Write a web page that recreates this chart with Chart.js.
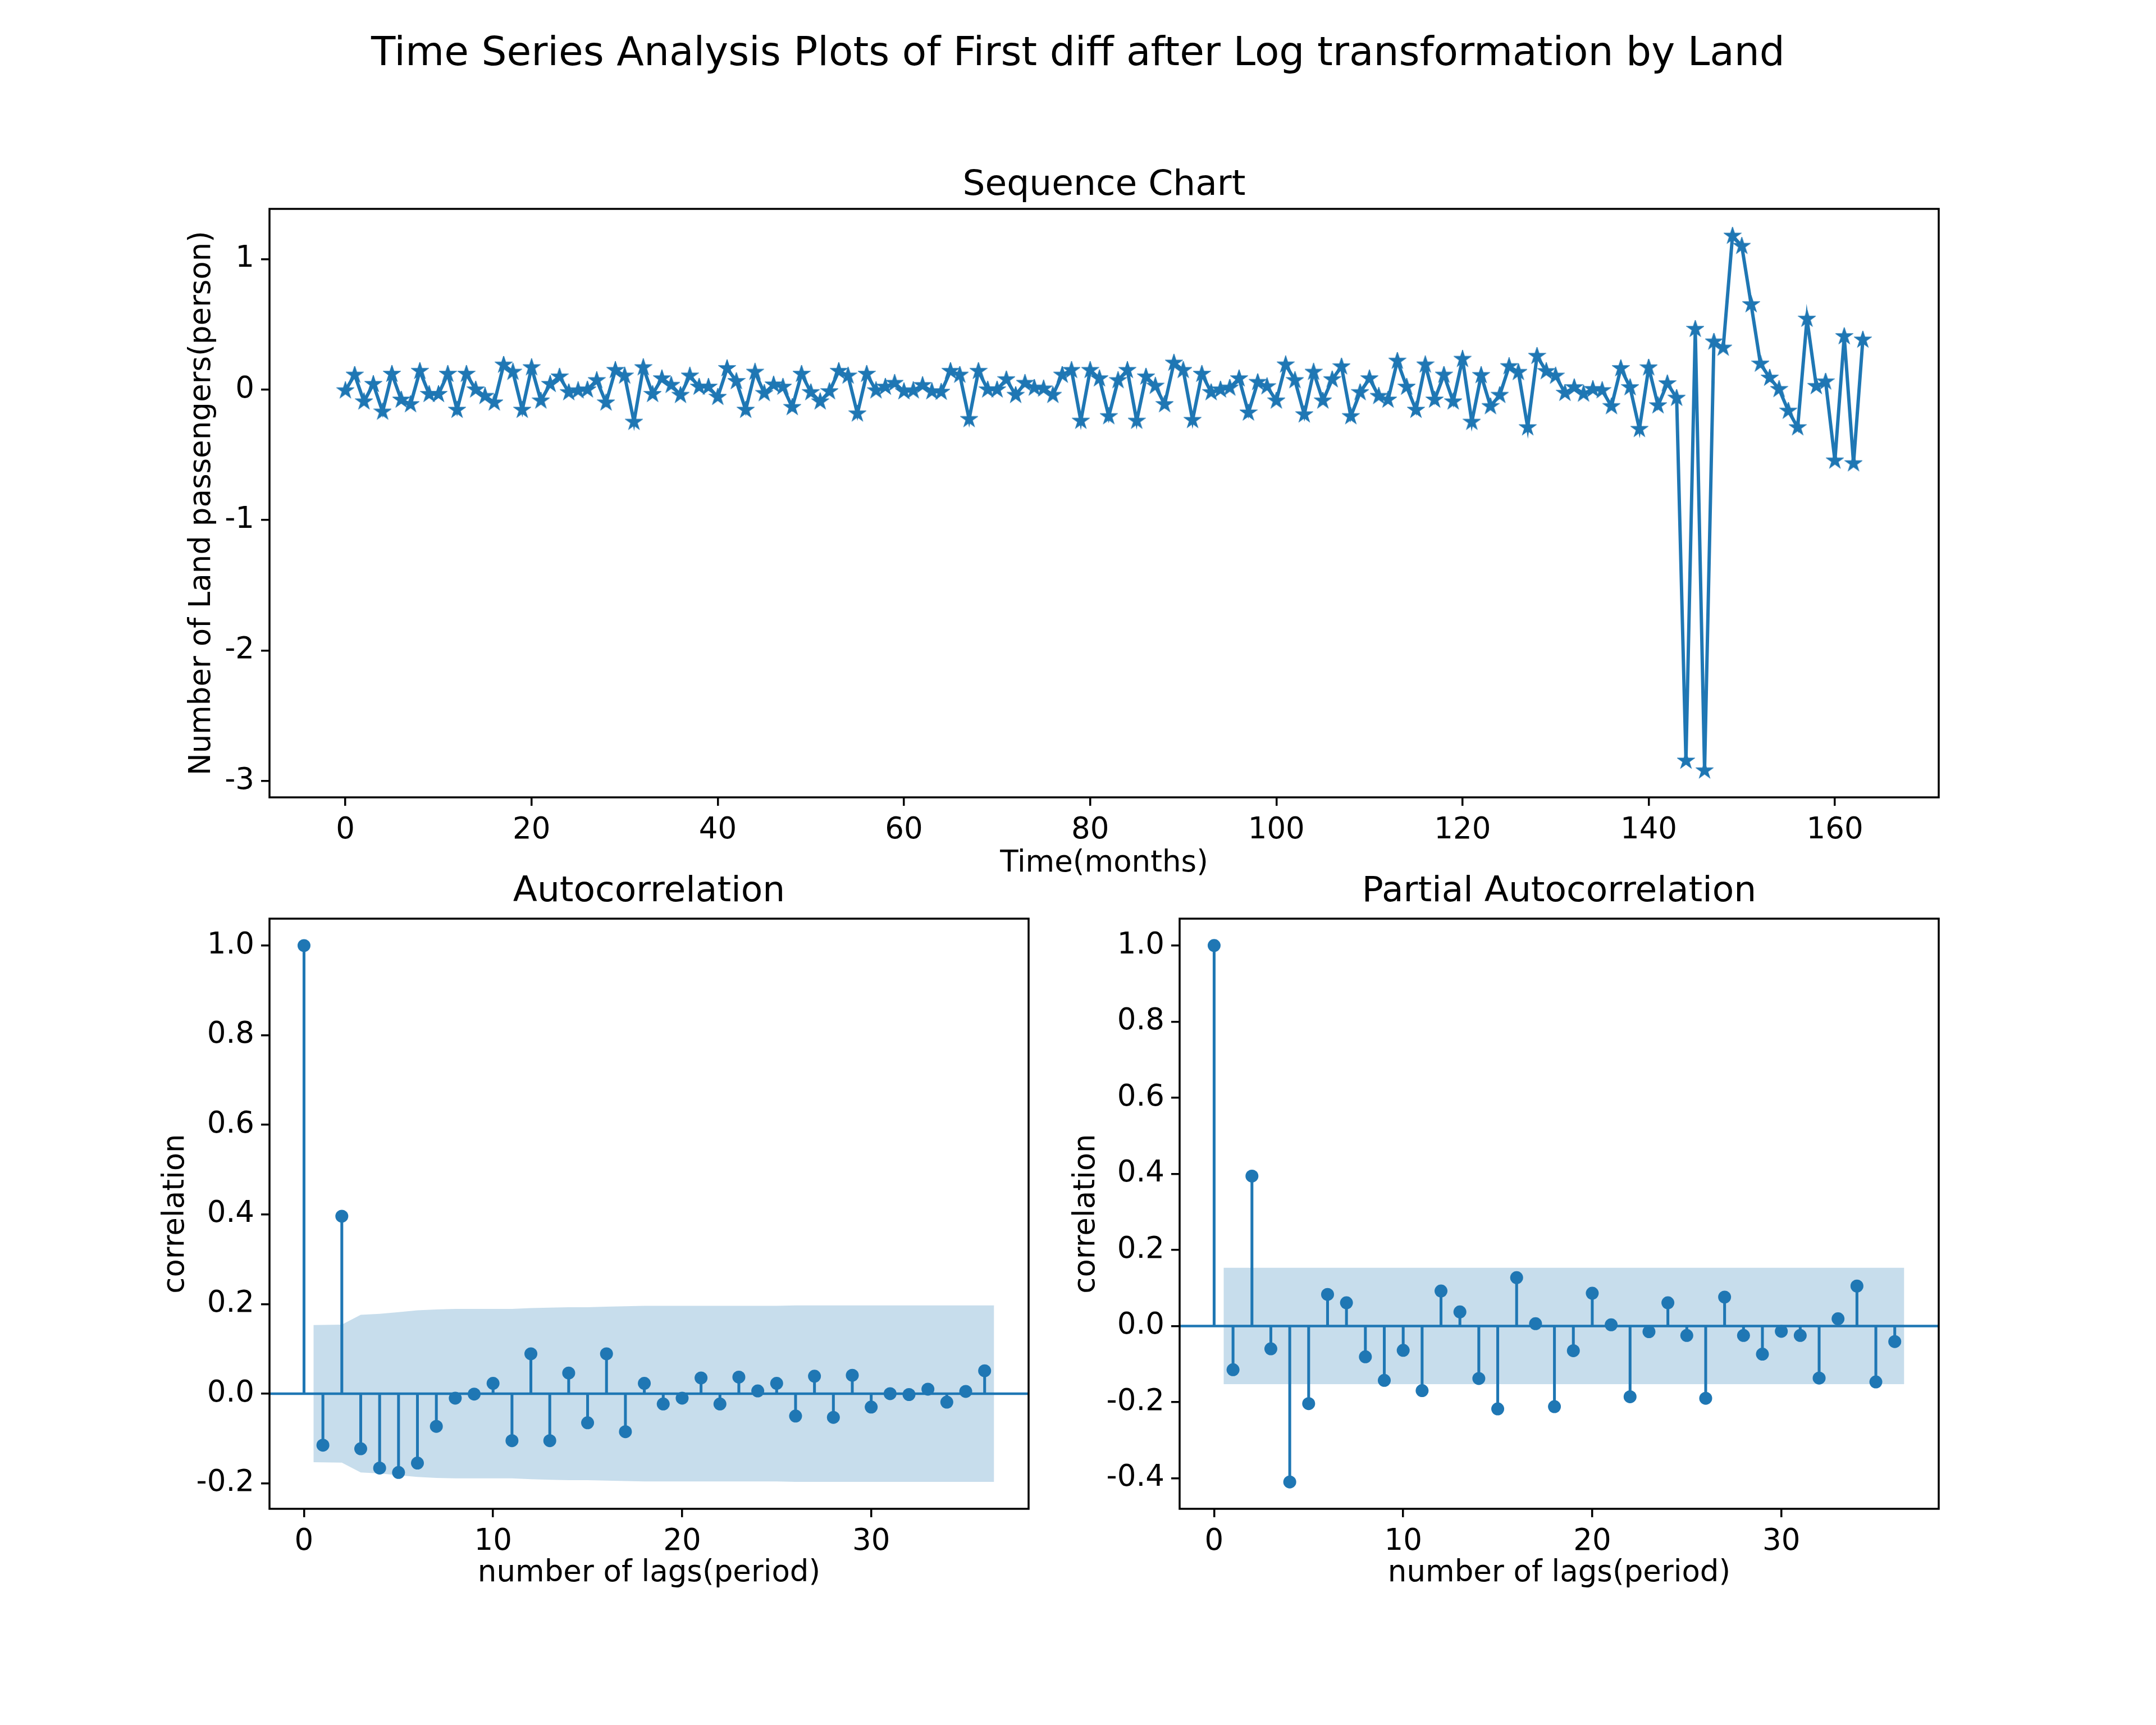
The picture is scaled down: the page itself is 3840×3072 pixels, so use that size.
<!DOCTYPE html>
<html>
<head>
<meta charset="utf-8">
<script src="https://cdn.jsdelivr.net/npm/chart.js@4.4.1/dist/chart.umd.min.js"></script>
<style>
  html, body { margin: 0; padding: 0; background: #fff; }
  #page { position: relative; width: 3840px; height: 3072px; background: #fff; }
  #suptitle { position: absolute; left: 0; top: 53px; width: 3840px; text-align: center;
              font: 71px "DejaVu Sans"; line-height: 78px; color: #000; }
  canvas { position: absolute; }
</style>
</head>
<body>
<div id="page">
  <div id="suptitle">Time Series Analysis Plots of First diff after Log transformation by Land</div>
  <canvas id="seqChart" width="3840" height="1500" style="left:0;top:200px;width:3840px;height:1500px"></canvas>
  <canvas id="acfChart" width="1880" height="1500" style="left:0;top:1450px;width:1880px;height:1500px"></canvas>
  <canvas id="pacfChart" width="1960" height="1500" style="left:1880px;top:1450px;width:1960px;height:1500px"></canvas>
</div>
<script>
// first difference of log(Land passengers), months 0..163
const seqValues = [
  -0.007, 0.113, -0.092, 0.042, -0.170, 0.120, -0.078, -0.113, 0.142, -0.035,
  -0.035, 0.120, -0.156, 0.120, 0.000, -0.050, -0.100, 0.190, 0.135, -0.156,
  0.170, -0.085, 0.042, 0.099, -0.021, -0.007, 0.000, 0.071, -0.100, 0.149,
  0.106, -0.248, 0.170, -0.035, 0.085, 0.035, -0.042, 0.106, 0.021, 0.021,
  -0.057, 0.163, 0.064, -0.156, 0.135, -0.028, 0.038, 0.021, -0.135, 0.120,
  -0.021, -0.092, -0.014, 0.142, 0.106, -0.184, 0.120, -0.007, 0.021, 0.050,
  -0.014, -0.007, 0.033, -0.014, -0.018, 0.142, 0.113, -0.227, 0.142, 0.000,
  0.000, 0.078, -0.042, 0.050, 0.014, 0.007, -0.042, 0.113, 0.149, -0.240,
  0.149, 0.085, -0.205, 0.071, 0.149, -0.240, 0.099, 0.028, -0.113, 0.205,
  0.149, -0.234, 0.120, -0.021, 0.000, 0.014, 0.085, -0.177, 0.057, 0.024,
  -0.085, 0.191, 0.071, -0.191, 0.135, -0.085, 0.078, 0.177, -0.205, -0.021,
  0.085, -0.050, -0.078, 0.220, 0.021, -0.156, 0.191, -0.078, 0.113, -0.092,
  0.234, -0.248, 0.110, -0.128, -0.042, 0.178, 0.134, -0.290, 0.257, 0.140,
  0.105, -0.026, 0.017, -0.032, 0.003, -0.006, -0.128, 0.163, 0.017, -0.303,
  0.169, -0.122, 0.047, -0.064, -2.845, 0.464, -2.920, 0.367, 0.320, 1.178,
  1.100, 0.653, 0.198, 0.090, 0.003, -0.163, -0.290, 0.542, 0.026, 0.061,
  -0.545, 0.408, -0.566, 0.382
];
const seqXTicks = [0, 20, 40, 60, 80, 100, 120, 140, 160];
const seqYTicks = [-3, -2, -1, 0, 1];
const seqXRange = [-8.15, 171.15];
const seqYRange = [-3.125, 1.385];

// lags 0..36
const acfValues = [
  1.0, -0.115, 0.396, -0.123, -0.166, -0.176, -0.155, -0.073, -0.010, -0.001,
  0.023, -0.105, 0.089, -0.105, 0.046, -0.065, 0.089, -0.085, 0.023, -0.023,
  -0.010, 0.035, -0.023, 0.037, 0.006, 0.023, -0.050, 0.039, -0.053, 0.041,
  -0.030, 0.000, -0.002, 0.010, -0.019, 0.005, 0.051
];
const pacfValues = [
  1.0, -0.115, 0.394, -0.060, -0.410, -0.204, 0.083, 0.061, -0.081, -0.143,
  -0.064, -0.170, 0.092, 0.037, -0.138, -0.218, 0.127, 0.006, -0.212, -0.065,
  0.086, 0.003, -0.186, -0.015, 0.061, -0.025, -0.190, 0.076, -0.025, -0.074,
  -0.014, -0.025, -0.137, 0.019, 0.105, -0.147, -0.041
];

// confidence band (half width) for lags 1..36, drawn at these x positions
const bandLags = [0.5, 2, 3, 4, 5, 6, 7, 8, 9, 10, 11, 12, 13, 14, 15, 16, 17, 18,
  19, 20, 21, 22, 23, 24, 25, 26, 27, 28, 29, 30, 31, 32, 33, 34, 35, 36.5];
const acfBand = [
  0.153, 0.154, 0.176, 0.178, 0.182, 0.186, 0.188, 0.189, 0.189, 0.189,
  0.189, 0.191, 0.192, 0.193, 0.193, 0.194, 0.195, 0.196, 0.196, 0.196,
  0.196, 0.196, 0.196, 0.196, 0.196, 0.197, 0.197, 0.197, 0.197, 0.197,
  0.197, 0.197, 0.197, 0.197, 0.197, 0.197
];
const pacfBand = [
  0.153, 0.153, 0.153, 0.153, 0.153, 0.153, 0.153, 0.153, 0.153, 0.153,
  0.153, 0.153, 0.153, 0.153, 0.153, 0.153, 0.153, 0.153, 0.153, 0.153,
  0.153, 0.153, 0.153, 0.153, 0.153, 0.153, 0.153, 0.153, 0.153, 0.153,
  0.153, 0.153, 0.153, 0.153, 0.153, 0.153
];
const lagXTicks = [0, 10, 20, 30];
const lagXRange = [-1.825, 38.325];
const acfYTicks = [-0.2, 0.0, 0.2, 0.4, 0.6, 0.8, 1.0];
const acfYRange = [-0.257, 1.06];
const pacfYTicks = [-0.4, -0.2, 0.0, 0.2, 0.4, 0.6, 0.8, 1.0];
const pacfYRange = [-0.4805, 1.0705];

const BLUE = "#1f77b4";
const BAND = "rgba(31,119,180,0.25)";
const FONT = "DejaVu Sans";

// matplotlib style '*' marker
function starImage(r) {
  const size = Math.ceil(r * 2 + 6);
  const c = document.createElement("canvas");
  c.width = size;
  c.height = size;
  const g = c.getContext("2d");
  g.translate(size / 2, size / 2);
  g.beginPath();
  for (let k = 0; k < 10; k++) {
    const rad = k % 2 === 0 ? r : r * 0.382;
    const a = -Math.PI / 2 + k * Math.PI / 5;
    g.lineTo(rad * Math.cos(a), rad * Math.sin(a));
  }
  g.closePath();
  g.fillStyle = BLUE;
  g.fill();
  g.lineWidth = 3;
  g.strokeStyle = BLUE;
  g.stroke();
  return c;
}

// four spines
const boxPlugin = {
  id: "box",
  afterDatasetsDraw(chart) {
    const a = chart.chartArea;
    const ctx = chart.ctx;
    ctx.save();
    ctx.strokeStyle = "#000";
    ctx.lineWidth = 3.5;
    ctx.strokeRect(a.left, a.top, a.right - a.left, a.bottom - a.top);
    ctx.restore();
  }
};

function axis(range, ticks, fmt, fitSize, horizontal, title, titlePad) {
  return {
    type: "linear",
    min: range[0],
    max: range[1],
    offset: false,
    afterBuildTicks: s => { s.ticks = ticks.map(v => ({ value: v })); },
    afterFit: s => { if (horizontal) s.height = fitSize; else s.width = fitSize; },
    border: { display: false },
    grid: {
      offset: false, drawOnChartArea: false, drawTicks: true, tickLength: 15,
      tickWidth: 3.5, tickColor: "#000", color: "#000", lineWidth: 3.5
    },
    ticks: {
      color: "#000", font: { family: FONT, size: 53 }, padding: 12,
      callback: fmt, maxRotation: 0, autoSkip: false
    },
    title: {
      display: true, text: title, color: "#000",
      font: { family: FONT, size: 53 }, padding: titlePad
    }
  };
}

function plotTitle(text, padTop, padBottom) {
  return {
    display: true, text: text, fullSize: false, color: "#000",
    font: { family: FONT, size: 63, weight: "normal" },
    padding: { top: padTop, bottom: padBottom }
  };
}

new Chart(document.getElementById("seqChart"), {
  type: "line",
  data: {
    datasets: [{
      data: seqValues.map((v, i) => ({ x: i, y: v })),
      borderColor: BLUE,
      backgroundColor: BLUE,
      borderWidth: 6,
      tension: 0,
      pointStyle: starImage(13),
      pointRadius: 14
    }]
  },
  options: {
    responsive: false,
    animation: false,
    devicePixelRatio: 1,
    layout: { padding: { left: 0, right: 387, top: 0, bottom: 110 } },
    plugins: {
      legend: { display: false },
      tooltip: { enabled: false },
      title: plotTitle("Sequence Chart", 92.8, 3.6)
    },
    scales: {
      x: axis(seqXRange, seqXTicks, v => String(v), 170, true, "Time(months)", { top: 0, bottom: 20.2 }),
      y: axis(seqYRange, seqYTicks, v => String(v), 480, false, "Number of Land passengers(person)", { top: 328.2, bottom: 0 })
    }
  },
  plugins: [boxPlugin]
});

function corrChart(id, title, values, band, yRange, yTicks, yWidth, yTitlePad, padRight) {
  new Chart(document.getElementById(id), {
    type: "scatter",
    data: {
      datasets: [
        {
          type: "scatter",
          data: values.map((v, i) => ({ x: i, y: v })),
          backgroundColor: BLUE,
          borderWidth: 0,
          pointRadius: 11.5,
          order: 1
        },
        {
          type: "bar",
          data: values.map((v, i) => ({ x: i, y: [0, v] })),
          backgroundColor: BLUE,
          barThickness: 4.4,
          order: 2
        },
        {
          type: "line",
          data: lagXRange.map(x => ({ x: x, y: 0 })),
          borderColor: BLUE,
          borderWidth: 4.5,
          pointRadius: 0,
          order: 3
        },
        {
          type: "line",
          data: bandLags.map((x, i) => ({ x: x, y: band[i] })),
          borderColor: "rgba(0,0,0,0)",
          backgroundColor: BAND,
          pointRadius: 0,
          tension: 0,
          fill: "+1",
          order: 4
        },
        {
          type: "line",
          data: bandLags.map((x, i) => ({ x: x, y: -band[i] })),
          borderColor: "rgba(0,0,0,0)",
          pointRadius: 0,
          tension: 0,
          fill: false,
          order: 5
        }
      ]
    },
    options: {
      responsive: false,
      animation: false,
      devicePixelRatio: 1,
      layout: { padding: { left: 0, right: padRight, top: 0, bottom: 93 } },
      plugins: {
        legend: { display: false },
        tooltip: { enabled: false },
        title: plotTitle(title, 101.2, 9.2)
      },
      scales: {
        x: axis(lagXRange, lagXTicks, v => String(v), 170, true, "number of lags(period)", { top: 0, bottom: 23.2 }),
        y: axis(yRange, yTicks, v => v.toFixed(1), yWidth, false, "correlation", { top: yTitlePad, bottom: 0 })
      }
    },
    plugins: [boxPlugin]
  });
}

corrChart("acfChart", "Autocorrelation", acfValues, acfBand, acfYRange, acfYTicks, 480, 281.2, 48);
corrChart("pacfChart", "Partial Autocorrelation", pacfValues, pacfBand, pacfYRange, pacfYTicks, 221, 23.2, 387);
</script>
</body>
</html>
